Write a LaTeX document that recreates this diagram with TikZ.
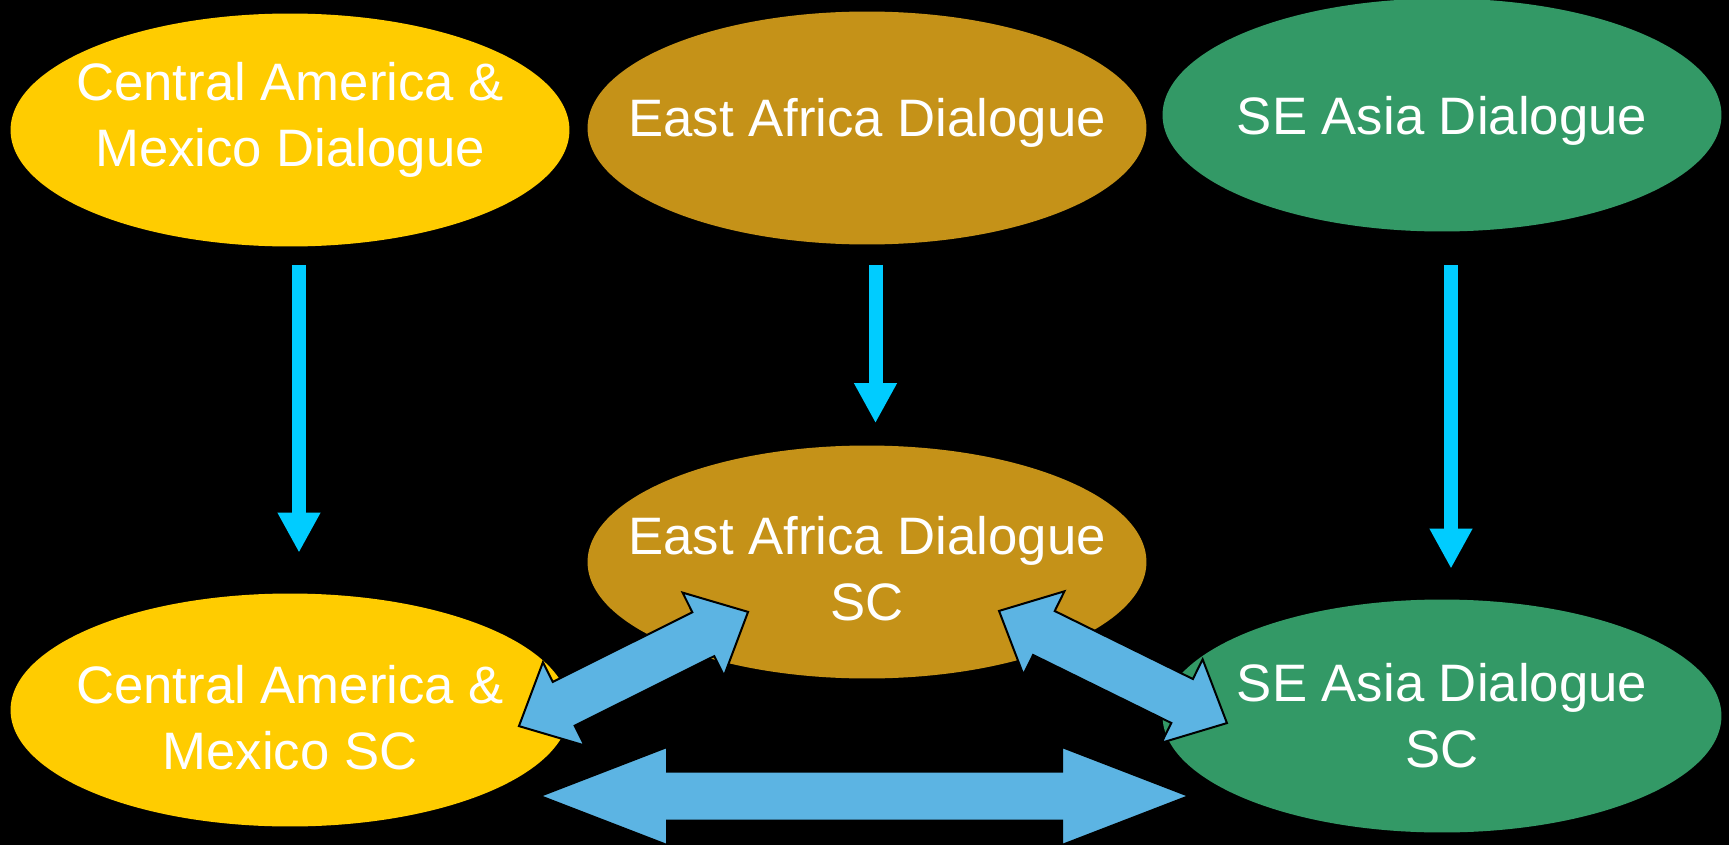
\documentclass[tikz,border=0pt]{standalone}
\usepackage{fontspec}
\setmainfont{Liberation Sans}
\usetikzlibrary{shapes.geometric,arrows.meta}

\definecolor{cayellow}{HTML}{FFCC00}
\definecolor{eagold}{HTML}{C59218}
\definecolor{seagreen}{HTML}{339966}
\definecolor{feedcyan}{HTML}{00CCFF}
\definecolor{linkblue}{HTML}{5CB4E3}

\begin{document}
\begin{tikzpicture}[x=0.02cm,y=-0.02cm,
  dialogue/.style={ellipse, minimum width=11.18cm, minimum height=4.66cm, inner sep=0pt},
  caption/.style={text=white, align=center, font=\fontsize{30}{37.5}\selectfont},
  feed/.style={draw=feedcyan, line width=0.28cm, -{Triangle[width=0.8cm,length=0.8cm]}},
  twoway/.style={fill=linkblue, draw=black, line width=0.04cm}]
\fill[black] (0,0) rectangle (1729,845);
\useasboundingbox (0,0) rectangle (1729,845);

% dialogues
\node[dialogue, fill=cayellow, label={[caption, yshift=0.2cm]center:Central America \&\\Mexico Dialogue}] (cam) at (290,130) {};
\node[dialogue, fill=eagold, label={[caption, yshift=0.11cm]center:East Africa Dialogue}] (ea) at (867,128) {};
\node[dialogue, fill=seagreen, label={[caption, yshift=-0.11cm]center:SE Asia Dialogue}] (sea) at (1442,115) {};

% steering committees
\node[dialogue, fill=eagold, label={[caption, yshift=-0.14cm]center:East Africa Dialogue\\SC}] (easc) at (867,562) {};
\node[dialogue, fill=cayellow, label={[caption, yshift=-0.15cm]center:Central America \&\\Mexico SC}] (camsc) at (290,710) {};
\node[dialogue, fill=seagreen, label={[caption]center:SE Asia Dialogue\\SC}] (seasc) at (1442,716) {};

\draw[feed] ([xshift=0.18cm,yshift=-0.37cm]cam.south) -- ([xshift=0.18cm,yshift=0.81cm]camsc.north);
\draw[feed] ([xshift=0.17cm,yshift=-0.4cm]ea.south) -- ([xshift=0.17cm,yshift=0.44cm]easc.north);
\draw[feed] ([xshift=0.18cm,yshift=-0.67cm]sea.south) -- ([xshift=0.18cm,yshift=0.61cm]seasc.north);

% links between the SCs
\begin{scope}[shift={(633.5,669)}, rotate=26.5]
\draw[twoway] (-128,0) -- (-78,-46.5) -- (-78,-24.5) -- (78,-24.5) -- (78,-46.5) -- (128,0)
  -- (78,46.5) -- (78,24.5) -- (-78,24.5) -- (-78,46.5) -- cycle;
\end{scope}
\begin{scope}[shift={(1113,667)}, rotate=-26.2]
\draw[twoway] (-127,0) -- (-77,-46.5) -- (-77,-24.5) -- (77,-24.5) -- (77,-46.5) -- (127,0)
  -- (77,46.5) -- (77,24.5) -- (-77,24.5) -- (-77,46.5) -- cycle;
\end{scope}
\begin{scope}[shift={(864.5,796)}]
\draw[twoway] (-324.5,0) -- (-197.5,-49) -- (-197.5,-24.5) -- (197.5,-24.5) -- (197.5,-49) -- (324.5,0)
  -- (197.5,49) -- (197.5,24.5) -- (-197.5,24.5) -- (-197.5,49) -- cycle;
\end{scope}
\end{tikzpicture}
\end{document}
